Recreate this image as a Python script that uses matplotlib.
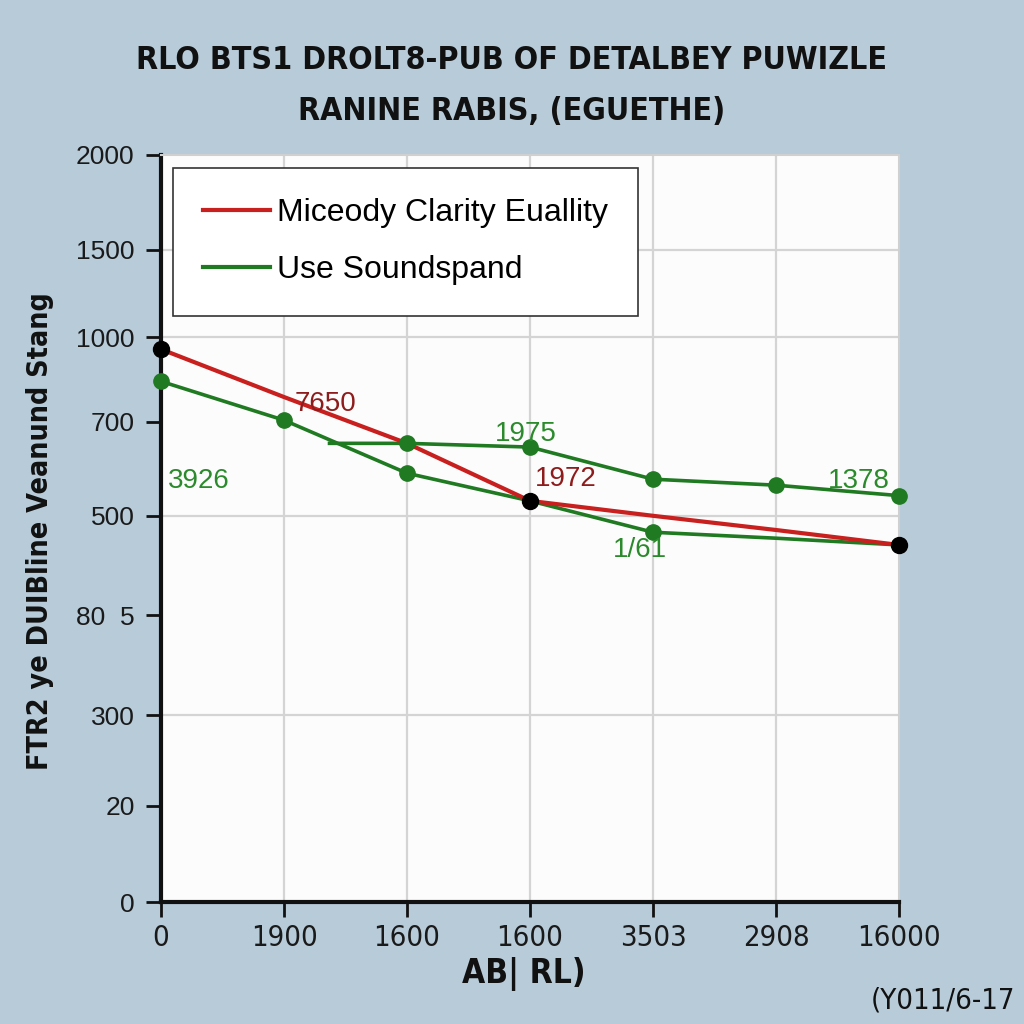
import matplotlib
matplotlib.use("Agg")
import matplotlib.pyplot as plt

##############################################################################################
# values (y in axis-height percent, ticks are not linear)

x_labels = ["0", "1900", "1600", "1600", "3503", "2908", "16000"]
y_tick_pos = [0, 12.9, 25.0, 38.4, 51.7, 64.3, 75.6, 87.3, 100]
y_tick_labels = ["0", "20", "300", "80  5", "500", "700", "1000", "1500", "2000"]
y_grid_pos = [25.0, 51.7, 75.6, 87.3]

red_x = [0, 1, 2, 3, 4, 5, 6]
red_y = [74.0, 67.6, 61.4, 53.7, 51.7, 49.8, 47.8]
red_marked = [0, 3, 6]

green_low_x = [0, 1, 2, 3, 4, 5, 6]
green_low_y = [69.7, 64.5, 57.4, 53.7, 49.5, 48.7, 47.8]
green_low_marked = [0, 1, 2, 4]

green_up_x = [1.37, 2, 3, 4, 5, 6]
green_up_y = [61.4, 61.4, 60.9, 56.6, 55.8, 54.4]
green_up_marked = [1, 2, 3, 4, 5]

notes = [("7650", 1.34, 66.7, "#8e1c1c"), ("1975", 2.97, 62.6, "#2b8a2b"),
         ("3926", 0.31, 56.4, "#2b8a2b"), ("1972", 3.29, 56.6, "#8e1c1c"),
         ("1/61", 3.89, 47.1, "#2b8a2b"), ("1378", 5.67, 56.4, "#2b8a2b")]

series_names = ["Miceody Clarity Euallity", "Use Soundspand"]

##############################################################################################

BG = "#b7cbd9"
RED = "#c8201e"
GREEN = "#1f7a22"
SANS = ["Liberation Sans", "DejaVu Sans"]
COND = dict(family="DejaVu Sans", stretch="condensed")

fig = plt.figure(figsize=(10.24, 10.24), dpi=100, facecolor=BG)
ax = fig.add_axes([161 / 1024, 122 / 1024, 738 / 1024, 747 / 1024])
ax.set_facecolor("#fcfcfc")

for y in y_grid_pos:
    ax.axhline(y, color="#d4d4d4", lw=1.6, zorder=0)
for x in red_x[1:-1]:
    ax.axvline(x, color="#d4d4d4", lw=1.6, zorder=0)

ax.plot(green_low_x, green_low_y, color=GREEN, lw=2.6, zorder=3)
ax.plot([green_low_x[i] for i in green_low_marked], [green_low_y[i] for i in green_low_marked],
        "o", color=GREEN, ms=11, zorder=5, clip_on=False)
ax.plot(green_up_x, green_up_y, color=GREEN, lw=2.6, zorder=3)
ax.plot([green_up_x[i] for i in green_up_marked], [green_up_y[i] for i in green_up_marked],
        "o", color=GREEN, ms=11, zorder=5, clip_on=False)
ax.plot(red_x, red_y, color=RED, lw=3, zorder=4)
ax.plot([red_x[i] for i in red_marked], [red_y[i] for i in red_marked],
        "o", color="black", ms=11.5, zorder=6, clip_on=False)

for txt, x, y, c in notes:
    ax.text(x, y, txt, color=c, fontsize=20, family=SANS, ha="center", va="center", zorder=7)

ax.set_xlim(0, 6)
ax.set_ylim(0, 100)
ax.set_xticks(red_x)
ax.set_xticklabels(x_labels, fontsize=21, color="#1a1a1a", **COND)
ax.set_yticks(y_tick_pos)
ax.set_yticklabels(y_tick_labels, family=SANS, fontsize=19, color="#1a1a1a")
ax.tick_params(axis="both", length=11, width=2, color="#111111")
ax.tick_params(axis="x", pad=5)
ax.tick_params(axis="y", pad=8)

for side in ["left", "bottom"]:
    ax.spines[side].set_linewidth(3)
    ax.spines[side].set_color("#111111")
for side in ["top", "right"]:
    ax.spines[side].set_linewidth(1.5)
    ax.spines[side].set_color("#d0d0d0")

h1, = ax.plot([], [], color=RED, lw=3)
h2, = ax.plot([], [], color=GREEN, lw=3)
leg = ax.legend([h1, h2], series_names, loc="upper left", bbox_to_anchor=(0.016, 0.983),
                prop={"family": SANS, "size": 23}, fancybox=False, framealpha=1,
                edgecolor="#333333", handlelength=2.1, handletextpad=0.2,
                labelspacing=0.85, borderpad=0.95, borderaxespad=0)
leg.get_frame().set_linewidth(1.2)

fig.text(0.5, 0.941, "RLO BTS1 DROLT8-PUB OF DETALBEY PUWIZLE", ha="center", va="center",
         weight="bold", fontsize=23, color="#111111", **COND)
fig.text(0.5, 0.891, "RANINE RABIS, (EGUETHE)", ha="center", va="center",
         weight="bold", fontsize=23, color="#111111", **COND)
fig.text(0.039, 0.481, "FTR2 ye DUIBline Veanund Stang", rotation=90, ha="center", va="center",
         weight="bold", fontsize=20.5, color="#111111", **COND)
fig.text(0.512, 0.049, "AB| RL)", ha="center", va="center",
         weight="bold", fontsize=24, color="#111111", **COND)
fig.text(0.991, 0.023, "(Y011/6-17", ha="right", va="center",
         fontsize=21, color="#111111", **COND)

fig.savefig("out.png", dpi=100, facecolor=BG)
